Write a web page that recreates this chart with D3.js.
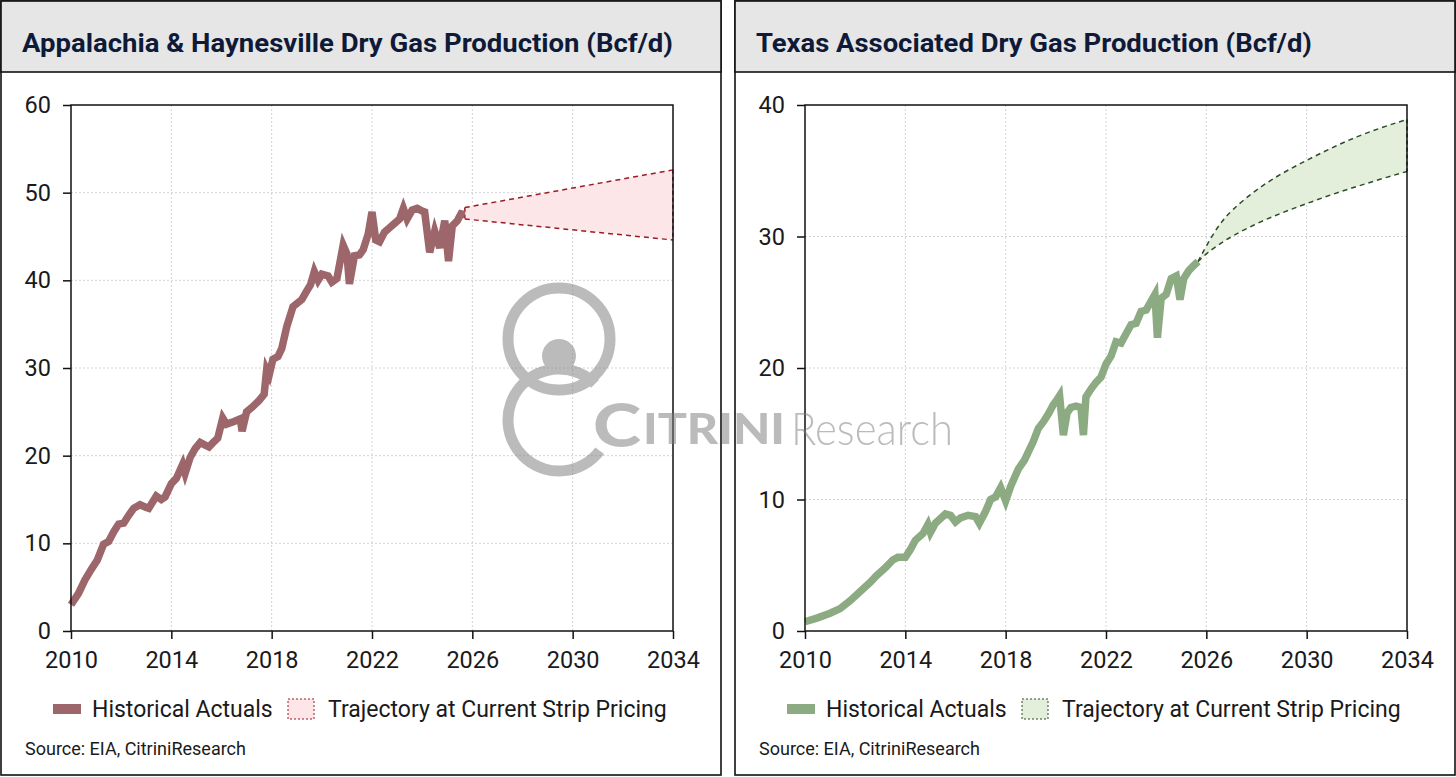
<!DOCTYPE html>
<html>
<head>
<meta charset="utf-8">
<script src="https://cdn.jsdelivr.net/npm/d3@7"></script>
<style>
  body { margin: 0; background: #fff; }
  svg { display: block; }
  text { font-family: Roboto, "Noto Sans", sans-serif; }
</style>
</head>
<body>
<script>
// x axis ticks shared by both charts
const xTicks = [2010, 2014, 2018, 2022, 2026, 2030, 2034];

// Appalachia & Haynesville, historical (decimal year / Bcf/d)
const appYears = [2010.0, 2010.3, 2010.55, 2010.8, 2011.05, 2011.3, 2011.5, 2011.7, 2011.9, 2012.1,
  2012.3, 2012.5, 2012.75, 2013.0, 2013.1, 2013.4, 2013.6, 2013.75, 2014.0, 2014.2,
  2014.45, 2014.55, 2014.75, 2014.95, 2015.15, 2015.35, 2015.5, 2015.7, 2015.85, 2016.05,
  2016.2, 2016.5, 2016.75, 2016.82, 2017.0, 2017.25, 2017.5, 2017.7, 2017.8, 2017.9,
  2018.05, 2018.25, 2018.4, 2018.6, 2018.85, 2019.2, 2019.4, 2019.55, 2019.7, 2019.85,
  2020.0, 2020.25, 2020.4, 2020.6, 2020.85, 2021.0, 2021.1, 2021.3, 2021.5, 2021.65,
  2021.85, 2022.0, 2022.15, 2022.3, 2022.5, 2022.7, 2022.9, 2023.1, 2023.25, 2023.4,
  2023.6, 2023.8, 2024.0, 2024.1, 2024.3, 2024.5, 2024.7, 2024.9, 2025.05, 2025.2,
  2025.4, 2025.55, 2025.7];
const appValues = [3.0, 4.3, 5.8, 7.0, 8.1, 9.9, 10.2, 11.3, 12.2, 12.3,
  13.2, 14.0, 14.4, 14.1, 14.0, 15.4, 15.0, 15.3, 16.8, 17.4,
  19.0, 18.0, 19.8, 20.8, 21.5, 21.2, 21.0, 21.6, 22.0, 24.3,
  23.6, 23.9, 24.2, 22.8, 25.0, 25.6, 26.3, 27.0, 29.8, 29.2,
  31.0, 31.3, 32.2, 34.7, 37.0, 37.8, 38.8, 39.5, 41.0, 40.0,
  40.7, 40.5, 39.8, 40.2, 44.0, 43.0, 39.6, 42.8, 42.9, 43.5,
  45.3, 47.8, 44.6, 44.4, 45.5, 46.0, 46.5, 47.0, 48.2, 47.0,
  48.0, 48.2, 47.9, 47.8, 43.2, 45.6, 43.7, 46.8, 42.2, 46.2,
  46.8, 47.6, 47.5];
// Appalachia & Haynesville, strip pricing trajectory
const appProjYears = [2025.7, 2034];
const appProjUpper = [48.3, 52.6];
const appProjLower = [47.0, 44.6];
const appYTicks = [0, 10, 20, 30, 40, 50, 60];

// Texas associated gas, historical
const txYears = [2010.0, 2010.5, 2011.0, 2011.4, 2011.8, 2012.2, 2012.6, 2012.85, 2013.2, 2013.5,
  2013.7, 2014.0, 2014.2, 2014.4, 2014.7, 2014.9, 2015.0, 2015.2, 2015.6, 2015.8,
  2016.0, 2016.2, 2016.5, 2016.8, 2016.95, 2017.2, 2017.4, 2017.6, 2017.8, 2018.0,
  2018.2, 2018.5, 2018.75, 2018.9, 2019.1, 2019.3, 2019.5, 2019.7, 2019.9, 2020.05,
  2020.15, 2020.3, 2020.45, 2020.6, 2020.8, 2021.0, 2021.1, 2021.2, 2021.4, 2021.6,
  2021.8, 2022.0, 2022.2, 2022.4, 2022.6, 2022.8, 2023.0, 2023.2, 2023.4, 2023.6,
  2023.8, 2023.95, 2024.05, 2024.2, 2024.4, 2024.6, 2024.8, 2024.95, 2025.1, 2025.3,
  2025.5, 2025.67];
const txValues = [0.7, 1.0, 1.35, 1.7, 2.3, 3.0, 3.7, 4.2, 4.8, 5.4,
  5.6, 5.6, 6.2, 6.9, 7.4, 8.1, 7.5, 8.2, 8.9, 8.8,
  8.3, 8.6, 8.8, 8.7, 8.2, 9.1, 10.0, 10.2, 10.9, 9.9,
  11.0, 12.3, 13.0, 13.6, 14.4, 15.4, 15.9, 16.5, 17.2, 17.6,
  17.9, 14.9, 16.6, 17.0, 17.1, 17.0, 14.9, 17.8, 18.4, 18.9,
  19.3, 20.3, 20.9, 22.0, 21.9, 22.6, 23.3, 23.4, 24.3, 24.4,
  25.1, 25.6, 22.3, 25.3, 25.6, 26.8, 27.0, 25.2, 26.8, 27.4,
  27.8, 28.1];
// Texas associated gas, strip pricing trajectory
const txProjYears = [2025.67, 2026, 2026.5, 2027, 2028, 2029, 2030, 2031, 2032, 2033, 2034];
const txProjUpper = [28.1, 29.3, 30.9, 32.0, 33.6, 34.8, 35.8, 36.75, 37.6, 38.3, 38.9];
const txProjLower = [28.1, 28.7, 29.4, 30.0, 31.0, 31.8, 32.5, 33.2, 33.8, 34.4, 34.95];
const txYTicks = [0, 10, 20, 30, 40];

const svg = d3.select('body').append('svg')
  .attr('width', 1456)
  .attr('height', 777);

function drawPanel(p) {
  let g = svg.append('g').attr('transform', `translate(${p.ox},0)`);

  // panel frame + title band
  g.append('rect')
    .attr('x', 1).attr('y', 1).attr('width', 720).attr('height', 774)
    .attr('fill', '#fff').attr('stroke', '#111').attr('stroke-width', 1.6);
  g.append('rect')
    .attr('x', 1).attr('y', 1).attr('width', 720).attr('height', 71)
    .attr('fill', '#e6e6e6').attr('stroke', '#111').attr('stroke-width', 1.6);
  g.append('text')
    .attr('x', 22).attr('y', 52)
    .attr('font-size', 26).attr('font-weight', 700).attr('fill', '#0e1a38')
    .attr('textLength', p.titleW).attr('lengthAdjust', 'spacingAndGlyphs')
    .text(p.title);

  let x = d3.scaleLinear().domain([2010, 2034]).range([71, 673]);
  let y = d3.scaleLinear().domain([0, p.yMax]).range([631, 105]);

  // grid
  g.append('g').selectAll('line.gy')
    .data(p.yTicks.slice(1, -1))
    .join('line')
    .attr('x1', 71).attr('x2', 673)
    .attr('y1', d => y(d)).attr('y2', d => y(d))
    .attr('stroke', '#d4d4d4').attr('stroke-dasharray', '2,2');
  g.append('g').selectAll('line.gx')
    .data(xTicks.slice(1, -1))
    .join('line')
    .attr('x1', d => x(d)).attr('x2', d => x(d))
    .attr('y1', 105).attr('y2', 631)
    .attr('stroke', '#d4d4d4').attr('stroke-dasharray', '2,2');

  // projection band
  let proj = p.projYears.map((t, i) => ({ t, hi: p.projUpper[i], lo: p.projLower[i] }));
  let curve = p.projYears.length > 2 ? d3.curveBasis : d3.curveLinear;
  let band = d3.area().curve(curve)
    .x(d => x(d.t)).y0(d => y(d.lo)).y1(d => y(d.hi));
  g.append('path')
    .attr('d', band(proj))
    .attr('fill', p.projFill);
  let edge = d3.line().curve(curve).x(d => x(d.t));
  g.append('path')
    .attr('d', edge.y(d => y(d.hi))(proj))
    .attr('fill', 'none').attr('stroke', p.projStroke)
    .attr('stroke-width', 1.5).attr('stroke-dasharray', '5,4');
  g.append('path')
    .attr('d', edge.y(d => y(d.lo))(proj))
    .attr('fill', 'none').attr('stroke', p.projStroke)
    .attr('stroke-width', 1.5).attr('stroke-dasharray', '5,4');
  // vertical edges of the band
  [proj[0], proj[proj.length - 1]].forEach(d => {
    g.append('line')
      .attr('x1', x(d.t)).attr('x2', x(d.t))
      .attr('y1', y(d.hi)).attr('y2', y(d.lo))
      .attr('stroke', p.projStroke).attr('stroke-width', 1.5)
      .attr('stroke-dasharray', '4,3');
  });

  // historical actuals
  let hist = p.years.map((t, i) => [t, p.values[i]]);
  g.append('path')
    .attr('d', d3.line().x(d => x(d[0])).y(d => y(d[1]))(hist))
    .attr('fill', 'none')
    .attr('stroke', p.color)
    .attr('stroke-width', 7.5)
    .attr('stroke-linejoin', 'miter')
    .attr('stroke-miterlimit', 4);

  // axes
  let ya = g.append('g')
    .attr('transform', 'translate(71,0)')
    .call(d3.axisLeft(y).tickValues(p.yTicks).tickSize(8).tickPadding(12));
  let xa = g.append('g')
    .attr('transform', 'translate(0,631)')
    .call(d3.axisBottom(x).tickValues(xTicks).tickFormat(d3.format('d')).tickSize(8).tickPadding(12));
  [ya, xa].forEach(a => {
    a.select('.domain').remove();
    a.selectAll('line').attr('stroke', '#111').attr('stroke-width', 1.5);
    a.selectAll('text')
      .attr('font-size', 23.5).attr('fill', '#1a1a1a')
      .style('font-family', 'Roboto, sans-serif');
  });

  // plot frame
  g.append('rect')
    .attr('x', 71).attr('y', 105).attr('width', 602).attr('height', 526)
    .attr('fill', 'none').attr('stroke', '#111').attr('stroke-width', 1.5);

  // legend
  g.append('rect')
    .attr('x', 53).attr('y', 704).attr('width', 28).attr('height', 10)
    .attr('fill', p.color);
  g.append('text')
    .attr('x', 92).attr('y', 717)
    .attr('font-size', 23).attr('fill', '#1a1a1a')
    .text('Historical Actuals');
  g.append('rect')
    .attr('x', 288).attr('y', 699).attr('width', 26).attr('height', 20)
    .attr('fill', p.projFill).attr('stroke', p.projStroke)
    .attr('stroke-width', 1).attr('stroke-dasharray', '2,2');
  g.append('text')
    .attr('x', 328).attr('y', 717)
    .attr('font-size', 23).attr('fill', '#1a1a1a')
    .text('Trajectory at Current Strip Pricing');

  g.append('text')
    .attr('x', 25).attr('y', 755)
    .attr('font-size', 18).attr('fill', '#1a1a1a')
    .text('Source: EIA, CitriniResearch');
}

drawPanel({
  ox: 0,
  title: 'Appalachia & Haynesville Dry Gas Production (Bcf/d)',
  titleW: 651,
  yMax: 60, yTicks: appYTicks,
  years: appYears, values: appValues,
  projYears: appProjYears, projUpper: appProjUpper, projLower: appProjLower,
  color: '#9c666a', projFill: '#fde6e8', projStroke: '#9e1b24'
});

drawPanel({
  ox: 734,
  title: 'Texas Associated Dry Gas Production (Bcf/d)',
  titleW: 556,
  yMax: 40, yTicks: txYTicks,
  years: txYears, values: txValues,
  projYears: txProjYears, projUpper: txProjUpper, projLower: txProjLower,
  color: '#8dab83', projFill: '#e3eedb', projStroke: '#2c4d27'
});

// watermark
let wm = svg.append('g').attr('opacity', 0.52);
let wmColor = '#7d7d7d';
wm.append('circle')
  .attr('cx', 559).attr('cy', 339).attr('r', 51)
  .attr('fill', 'none').attr('stroke', wmColor).attr('stroke-width', 11);
wm.append('circle')
  .attr('cx', 559).attr('cy', 356).attr('r', 17)
  .attr('fill', wmColor);
wm.append('path')
  .attr('transform', 'translate(559,420)')
  .attr('d', d3.arc().innerRadius(45.5).outerRadius(56.5)
    .startAngle(-233 / 180 * Math.PI).endAngle(Math.PI / 4)())
  .attr('fill', wmColor);
wm.append('text')
  .attr('x', 593).attr('y', 447)
  .attr('font-size', 60).attr('font-weight', 900)
  .attr('textLength', 48).attr('lengthAdjust', 'spacingAndGlyphs')
  .style('font-family', 'Lato, sans-serif')
  .attr('fill', wmColor).text('C');
wm.append('text')
  .attr('x', 643).attr('y', 444)
  .attr('font-size', 42).attr('font-weight', 900)
  .attr('textLength', 142).attr('lengthAdjust', 'spacingAndGlyphs')
  .style('font-family', 'Lato, sans-serif')
  .attr('fill', wmColor).text('ITRINI');
wm.append('text')
  .attr('x', 791).attr('y', 445)
  .attr('font-size', 46).attr('font-weight', 300)
  .attr('textLength', 162).attr('lengthAdjust', 'spacingAndGlyphs')
  .style('font-family', 'Lato, sans-serif')
  .attr('fill', wmColor).text('Research');
</script>
</body>
</html>
